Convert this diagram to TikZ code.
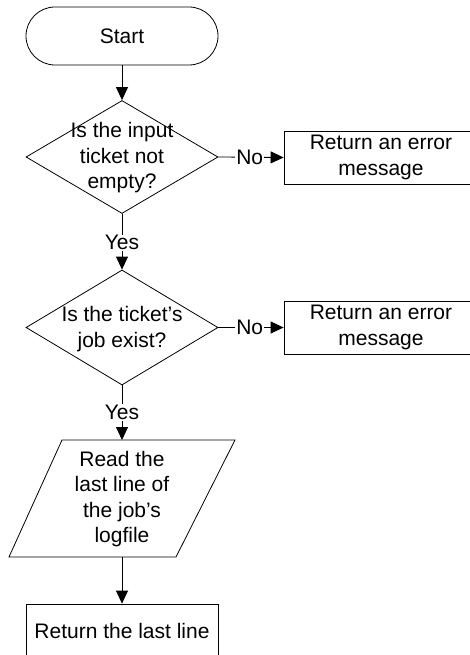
\documentclass[tikz,border=0pt]{standalone}
\usepackage{fontspec}
\setmainfont{Liberation Sans}
\usetikzlibrary{arrows.meta,shapes.geometric}
\begin{document}
\begin{tikzpicture}[x=1pt,y=-1pt,
  font=\fontsize{21}{25.5}\selectfont,
  line width=0.8pt,
  >={Triangle[length=13pt,width=12pt]},
  box/.style={draw, inner sep=0pt, align=center},
  dec/.style={draw, diamond, inner sep=0pt, minimum width=192pt},
  lbl/.style={fill=white, inner sep=1pt},
  txt/.style={align=center, inner sep=0pt}]
\useasboundingbox (0,0) rectangle (470,655);
\clip (0,0) rectangle (470,655);
\node[box, rounded corners=29pt, minimum width=192pt, minimum height=58pt] (start) at (122,36) {Start};
\node[dec, minimum height=113pt] (d1) at (122,157) {};
\node[txt] (t1) at (122,158) {Is the input\\ticket not\\empty?};
\node[box, minimum width=194pt, minimum height=53pt] (e1) at (381,157.5) {Return an error\\message};
\node[dec, minimum height=115pt] (d2) at (122,327.5) {};
\node[txt] (t2) at (122,329) {Is the ticket’s\\job exist?};
\node[box, minimum width=194pt, minimum height=53pt] (e2) at (381,327.5) {Return an error\\message};
\draw (62,440) -- (235,440) -- (176,557) -- (9,557) -- cycle;
\coordinate (ptop) at (122,440);
\coordinate (pbot) at (122,557);
\node[txt] (p) at (122,499) {Read the\\last line of\\the job’s\\logfile};
\node[box, minimum width=192pt, minimum height=54pt] (ret) at (122,631) {Return the last line};
\draw[->] (start.south) -- (d1.north);
\draw[->] (d1.east) -- node[lbl, pos=0.48] {No} (e1.west);
\draw[->] (d1.south) -- node[lbl, pos=0.52] {Yes} (d2.north);
\draw[->] (d2.east) -- node[lbl, pos=0.48] {No} (e2.west);
\draw[->] (d2.south) -- node[lbl, pos=0.5] {Yes} (ptop);
\draw[->] (pbot) -- (ret.north);
\end{tikzpicture}
\end{document}
